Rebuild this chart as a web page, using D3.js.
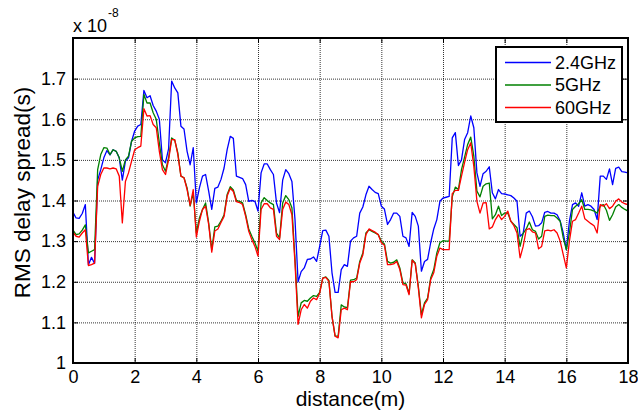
<!DOCTYPE html>
<html>
<head>
<meta charset="utf-8">
<script src="https://cdn.jsdelivr.net/npm/d3@7"></script>
<style>
  body { margin: 0; background: #fff; }
  svg { display: block; font-family: "Liberation Sans", Arial, sans-serif; }
  .grid line { stroke: #000; stroke-dasharray: 1,1; stroke-width: 1; stroke-opacity: 0.8; }
  .grid path { display: none; }
  .axis path, .axis line { stroke: #000; }
  .axis text { font-size: 18px; fill: #000; }
</style>
</head>
<body>
<svg width="638" height="412"></svg>
<script>
// sampled every 0.1 m from 0 to 18 m, values in units of 1e-8 s
const step = 0.1
const distance = d3.range(0, 181).map(i => +(i * step).toFixed(1))

const xTicks = [0, 2, 4, 6, 8, 10, 12, 14, 16, 18]
const yTicks = [1, 1.1, 1.2, 1.3, 1.4, 1.5, 1.6, 1.7]

const seriesNames = ["2.4GHz", "5GHz", "60GHz"]
const seriesColors = ["#0000ff", "#008000", "#ff0000"]

const ghz24 = [
  1.371, 1.357, 1.356, 1.368, 1.39, 1.242, 1.26, 1.245, 1.45, 1.476,
  1.505, 1.523, 1.512, 1.525, 1.521, 1.505, 1.45, 1.497, 1.505, 1.546,
  1.571, 1.583, 1.587, 1.671, 1.653, 1.658, 1.634, 1.62, 1.60, 1.50,
  1.493, 1.527, 1.694, 1.677, 1.665, 1.583, 1.576, 1.521, 1.488, 1.53,
  1.394, 1.431, 1.46, 1.464, 1.423, 1.378, 1.43, 1.433, 1.452, 1.48,
  1.525, 1.558, 1.553, 1.46, 1.457, 1.454, 1.439, 1.398, 1.40, 1.398,
  1.374, 1.468, 1.49, 1.49, 1.476, 1.464, 1.394, 1.37, 1.45, 1.476,
  1.466, 1.447, 1.353, 1.20, 1.225, 1.234, 1.255, 1.256, 1.261, 1.25,
  1.287, 1.326, 1.327, 1.312, 1.222, 1.174, 1.174, 1.23, 1.242, 1.238,
  1.30, 1.308, 1.312, 1.369, 1.384, 1.414, 1.435, 1.427, 1.42, 1.417,
  1.386, 1.379, 1.341, 1.353, 1.369, 1.369, 1.361, 1.312, 1.308, 1.287,
  1.371, 1.361, 1.337, 1.226, 1.25, 1.255, 1.296, 1.33, 1.353, 1.398,
  1.406, 1.408, 1.41, 1.554, 1.567, 1.486, 1.50, 1.55, 1.567, 1.608,
  1.579, 1.468, 1.435, 1.466, 1.472, 1.483, 1.419, 1.404, 1.427, 1.417,
  1.416, 1.414, 1.412, 1.406, 1.398, 1.312, 1.319, 1.369, 1.374, 1.36,
  1.337, 1.338, 1.345, 1.371, 1.373, 1.369, 1.369, 1.365, 1.35, 1.32,
  1.279, 1.349, 1.39, 1.394, 1.386, 1.419, 1.386, 1.39, 1.386, 1.378,
  1.353, 1.46, 1.46, 1.452, 1.478, 1.439, 1.479, 1.482, 1.471, 1.47, 1.468
]

const ghz5 = [
  1.327, 1.316, 1.318, 1.327, 1.34, 1.271, 1.275, 1.279, 1.476, 1.513,
  1.53, 1.529, 1.513, 1.525, 1.521, 1.505, 1.472, 1.50, 1.509, 1.546,
  1.554, 1.557, 1.558, 1.661, 1.64, 1.64, 1.616, 1.60, 1.542, 1.488,
  1.472, 1.505, 1.554, 1.548, 1.517, 1.46, 1.456, 1.431, 1.386, 1.419,
  1.32, 1.357, 1.378, 1.394, 1.345, 1.279, 1.335, 1.337, 1.349, 1.365,
  1.415, 1.434, 1.426, 1.40, 1.398, 1.394, 1.365, 1.33, 1.312, 1.296,
  1.275, 1.394, 1.407, 1.40, 1.394, 1.39, 1.32, 1.308, 1.394, 1.412,
  1.402, 1.382, 1.255, 1.115, 1.148, 1.154, 1.152, 1.16, 1.166, 1.164,
  1.174, 1.209, 1.212, 1.203, 1.115, 1.067, 1.066, 1.143, 1.138, 1.136,
  1.204, 1.205, 1.209, 1.25, 1.271, 1.32, 1.328, 1.324, 1.32, 1.316,
  1.30, 1.293, 1.25, 1.246, 1.248, 1.254, 1.234, 1.197, 1.195, 1.171,
  1.254, 1.246, 1.189, 1.119, 1.148, 1.16, 1.209, 1.23, 1.271, 1.296,
  1.301, 1.30, 1.30, 1.409, 1.433, 1.427, 1.476, 1.507, 1.538, 1.556,
  1.509, 1.423, 1.409, 1.435, 1.441, 1.443, 1.355, 1.365, 1.386, 1.363,
  1.369, 1.369, 1.349, 1.341, 1.333, 1.287, 1.319, 1.33, 1.347, 1.328,
  1.324, 1.305, 1.312, 1.361, 1.364, 1.363, 1.363, 1.357, 1.349, 1.308,
  1.279, 1.32, 1.378, 1.386, 1.392, 1.402, 1.378, 1.378, 1.377, 1.374,
  1.369, 1.386, 1.39, 1.376, 1.351, 1.365, 1.384, 1.39, 1.383, 1.378, 1.374
]

const ghz60 = [
  1.322, 1.312, 1.31, 1.32, 1.328, 1.24, 1.242, 1.246, 1.435, 1.464,
  1.48, 1.48, 1.478, 1.48, 1.478, 1.46, 1.345, 1.447, 1.468, 1.497,
  1.525, 1.53, 1.534, 1.626, 1.608, 1.609, 1.587, 1.579, 1.521, 1.476,
  1.464, 1.50, 1.55, 1.55, 1.513, 1.46, 1.456, 1.427, 1.388, 1.427,
  1.31, 1.349, 1.378, 1.386, 1.341, 1.273, 1.325, 1.33, 1.346, 1.361,
  1.411, 1.43, 1.422, 1.397, 1.395, 1.39, 1.361, 1.324, 1.304, 1.287,
  1.263, 1.378, 1.392, 1.392, 1.382, 1.378, 1.312, 1.304, 1.378, 1.396,
  1.39, 1.365, 1.246, 1.095, 1.131, 1.144, 1.135, 1.152, 1.16, 1.156,
  1.172, 1.209, 1.211, 1.201, 1.115, 1.066, 1.062, 1.131, 1.135, 1.131,
  1.20, 1.20, 1.205, 1.246, 1.266, 1.316, 1.33, 1.326, 1.322, 1.316,
  1.296, 1.29, 1.242, 1.242, 1.244, 1.25, 1.23, 1.193, 1.192, 1.168,
  1.253, 1.244, 1.185, 1.111, 1.144, 1.156, 1.205, 1.222, 1.263, 1.283,
  1.279, 1.279, 1.279, 1.417, 1.425, 1.425, 1.46, 1.494, 1.525, 1.542,
  1.484, 1.398, 1.369, 1.394, 1.395, 1.33, 1.335, 1.353, 1.365, 1.353,
  1.361, 1.374, 1.349, 1.338, 1.32, 1.259, 1.287, 1.328, 1.331, 1.323,
  1.32, 1.281, 1.287, 1.325, 1.327, 1.325, 1.328, 1.32, 1.30, 1.267,
  1.234, 1.30, 1.349, 1.353, 1.369, 1.386, 1.355, 1.349, 1.343, 1.338,
  1.32, 1.39, 1.386, 1.392, 1.38, 1.386, 1.398, 1.404, 1.396, 1.392, 1.39
]

const series = [ghz24, ghz5, ghz60]

const svg = d3.select("svg")
const margin = { left: 73, right: 10, top: 38, bottom: 49 }
const width = +svg.attr("width") - margin.left - margin.right
const height = +svg.attr("height") - margin.top - margin.bottom

const x = d3.scaleLinear().domain([0, 18]).range([0, width])
const y = d3.scaleLinear().domain([1, 1.8]).range([height, 0])

const g = svg.append("g")
    .attr("transform", `translate(${margin.left},${margin.top})`)

// dotted grid
g.append("g")
    .attr("class", "grid")
    .attr("transform", `translate(0,${height})`)
    .call(d3.axisBottom(x).tickValues(xTicks.slice(1, -1)).tickSize(-height).tickFormat(""))

g.append("g")
    .attr("class", "grid")
    .call(d3.axisLeft(y).tickValues(yTicks.slice(1)).tickSize(-width).tickFormat(""))

svg.append("clipPath")
    .attr("id", "plot-clip")
    .append("rect")
    .attr("width", width)
    .attr("height", height)

const line = d3.line()
    .x((d, i) => x(distance[i]))
    .y(d => y(d))

g.append("g")
    .attr("clip-path", "url(#plot-clip)")
    .selectAll("path")
    .data(series)
    .enter()
    .append("path")
    .attr("fill", "none")
    .attr("stroke", (d, i) => seriesColors[i])
    .attr("stroke-width", 1.3)
    .attr("stroke-linejoin", "round")
    .attr("d", line)

// axes, ticks pointing inwards on every side
g.append("g")
    .attr("class", "axis")
    .attr("transform", `translate(0,${height})`)
    .call(d3.axisBottom(x).tickValues(xTicks).tickSizeInner(-5).tickSizeOuter(0).tickPadding(7).tickFormat(d3.format("d")))

g.append("g")
    .attr("class", "axis")
    .call(d3.axisLeft(y).tickValues(yTicks).tickSizeInner(-5).tickSizeOuter(0).tickPadding(7).tickFormat(d => d === 1 ? "1" : d3.format(".1f")(d)))

g.append("g")
    .attr("class", "axis")
    .call(d3.axisTop(x).tickValues(xTicks).tickSizeInner(-5).tickSizeOuter(0).tickFormat(""))

g.append("g")
    .attr("class", "axis")
    .attr("transform", `translate(${width},0)`)
    .call(d3.axisRight(y).tickValues(yTicks).tickSizeInner(-5).tickSizeOuter(0).tickFormat(""))

g.selectAll(".axis path").remove()

g.append("rect")
    .attr("width", width)
    .attr("height", height)
    .attr("fill", "none")
    .attr("stroke", "#000")
    .attr("stroke-width", 2)

// exponent
const expo = svg.append("text")
    .attr("x", margin.left)
    .attr("y", 32)
    .attr("font-size", 18)
expo.append("tspan").text("x 10")
expo.append("tspan").attr("font-size", 12).attr("dy", -15).attr("dx", 1).text("-8")

svg.append("text")
    .attr("x", margin.left + width / 2)
    .attr("y", 406)
    .attr("text-anchor", "middle")
    .attr("font-size", 21)
    .text("distance(m)")

svg.append("text")
    .attr("transform", `translate(30,${margin.top + height / 2 - 8}) rotate(-90)`)
    .attr("text-anchor", "middle")
    .attr("font-size", 22.5)
    .text("RMS delay spread(s)")

// legend
const legend = svg.append("g")
    .attr("transform", "translate(496,47)")

legend.append("rect")
    .attr("width", 126)
    .attr("height", 75)
    .attr("fill", "#fff")
    .attr("stroke", "#000")
    .attr("stroke-width", 2)

const item = legend.selectAll(".item")
    .data(seriesNames)
    .enter()
    .append("g")
    .attr("transform", (d, i) => `translate(0,${15.5 + i * 22.5})`)

item.append("line")
    .attr("x1", 9)
    .attr("x2", 55)
    .attr("stroke", (d, i) => seriesColors[i])
    .attr("stroke-width", 1.3)

item.append("text")
    .attr("x", 59)
    .attr("dy", "0.35em")
    .attr("font-size", 18)
    .text(d => d)
</script>
</body>
</html>
